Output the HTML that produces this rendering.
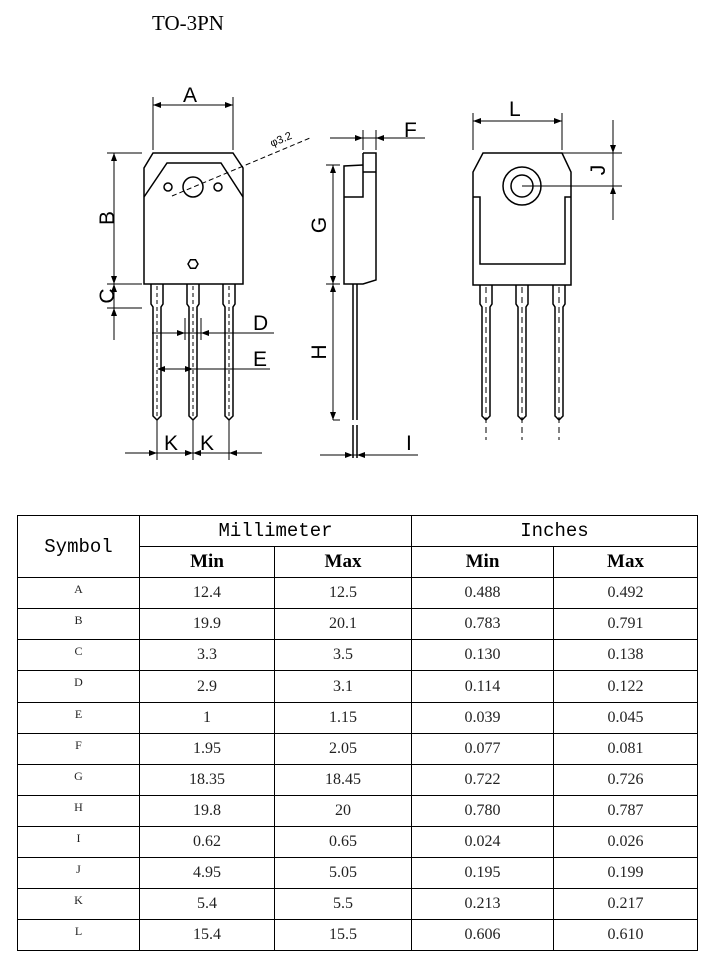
<!DOCTYPE html>
<html><head><meta charset="utf-8"><style>
body{margin:0;width:711px;height:959px;background:#fff;position:relative;overflow:hidden}
svg{position:absolute;left:0;top:0}
table{position:absolute;left:17px;top:515px;border-collapse:collapse;font-family:"Liberation Serif",serif;table-layout:fixed}
td{border:1.5px solid #000;text-align:center;padding:0;height:31.1px;line-height:16px;font-size:16px;color:#222;box-sizing:border-box}
td.s{font-size:12px;vertical-align:top;padding-top:5px;line-height:12px}
.h{font-family:"Liberation Mono",monospace;font-size:19px;color:#000}
.b{font-weight:bold;font-size:19px;color:#000}
</style></head><body>
<svg width="711" height="510" font-family="Liberation Sans,sans-serif">
<text x="152" y="30" font-family="Liberation Serif,serif" font-size="21">TO-3PN</text>
<g fill="none" stroke="#000" stroke-width="1.5">
<path d="M153 153 H233 L243 168 V284 H144 V168 Z"/>
<path d="M144 197 L167 163 H221 L243 197"/>
<circle cx="193" cy="187" r="10"/><circle cx="168" cy="187" r="4"/><circle cx="218" cy="187" r="4"/>
<polygon points="188,264 190.5,259.7 195.5,259.7 198,264 195.5,268.3 190.5,268.3"/>
<g id="lead"><path d="M151 284 V304 L153 307 V416 L157 420 L161 416 V307 L163 304 V284"/><path d="M157 286 V416" stroke-dasharray="4 3" stroke-width="1"/></g>
<use href="#lead" x="36"/><use href="#lead" x="72"/>
<g stroke-width="1">
<path d="M153 150 V97 M233 150 V97 M153 105 H233"/>
<path d="M107 153 H142 M107 284 H142 M107 308 H142 M114 153 V340"/>
<path d="M152 333 H274 M185 318 V340 M201 318 V340 M158 369 H270"/>
<path d="M125 453 H262 M157 420 V460 M193 420 V460 M229 420 V460"/>
<path d="M172 196 L310 138" stroke-dasharray="5 3"/>
</g>
<path d="M363 153 H376 V280 L363 284 H344 V166 L363 165"/>
<path d="M363 153 V197 H344 M363 172 H376"/>
<path d="M353 284 V420 M357 284 V420 M353 425 V458 M357 425 V458"/>
<g stroke-width="1">
<path d="M330 138 H425 M363 130 V150 M376 130 V150"/>
<path d="M326 165 H340 M326 284 H340 M333 165 V420 M333 420 H340"/>
<path d="M320 455 H418"/>
</g>
<path d="M483 153 H562 L571 172 V285 H473 V172 Z"/>
<path d="M473 197 H480 V264 H565 V197 H571"/>
<circle cx="522" cy="186" r="19"/><circle cx="522" cy="186" r="11"/>
<g id="lb"><path d="M480 285 V304 L482 307 V416 L486 420 L490 416 V307 L492 304 V285"/><path d="M486 287 V440" stroke-dasharray="6 4" stroke-width="1"/></g>
<use href="#lb" x="36"/><use href="#lb" x="73"/>
<g stroke-width="1">
<path d="M473 150 V113 M562 150 V113 M473 121 H562"/>
<path d="M562 153 H622 M522 186 H622 M613 120 V220"/>
</g>
</g>
<g fill="#000">
<path d="M153 105 l8 -3 v6 Z M233 105 l-8 -3 v6Z M114 153 l-3 8 h6Z M114 284 l-3 -8 h6Z M114 284 l-3 8 h6Z M114 308 l-3 8 h6Z"/>
<path d="M185 333 l-8 -3 v6Z M201 333 l8 -3 v6Z M157 369 l8 -3 v6Z M193 369 l-8 -3 v6Z"/>
<path d="M157 453 l-8 -3 v6Z M193 453 l-8 -3 v6Z M193 453 l8 -3 v6Z M229 453 l8 -3 v6Z"/>
<path d="M363 138 l-8 -3 v6Z M376 138 l8 -3 v6Z M333 165 l-3 8 h6Z M333 284 l-3 -8 h6Z M333 284 l-3 8 h6Z M333 420 l-3 -8 h6Z M353 455 l-8 -3 v6Z M357 455 l8 -3 v6Z"/>
<path d="M473 121 l8 -3 v6Z M562 121 l-8 -3 v6Z M613 153 l-3 -8 h6Z M613 186 l-3 8 h6Z"/>
</g>
<g font-size="21">
<text x="183" y="102">A</text>
<text x="106" y="226" transform="rotate(-90 106 218)" text-anchor="middle">B</text>
<text x="106" y="304" transform="rotate(-90 106 296)" text-anchor="middle">C</text>
<text x="253" y="330">D</text><text x="253" y="366">E</text>
<text x="164" y="450">K</text><text x="200" y="450">K</text>
<text x="404" y="137">F</text>
<text x="318" y="233" transform="rotate(-90 318 225)" text-anchor="middle">G</text>
<text x="318" y="360" transform="rotate(-90 318 352)" text-anchor="middle">H</text>
<text x="406" y="450">I</text>
<text x="509" y="116">L</text>
<text x="598" y="177" transform="rotate(-90 598 170)" text-anchor="middle">J</text>
</g>
<text x="272" y="147" font-size="11" transform="rotate(-23 272 147)">φ3.2</text>
</svg>
<table>
<colgroup><col style="width:122px"><col style="width:135px"><col style="width:137px"><col style="width:142px"><col style="width:144px"></colgroup>
<tr><td rowspan="2" class="h">Symbol</td><td colspan="2" class="h">Millimeter</td><td colspan="2" class="h">Inches</td></tr>
<tr><td class="b">Min</td><td class="b">Max</td><td class="b">Min</td><td class="b">Max</td></tr>
<tr><td class="s">A</td><td>12.4</td><td>12.5</td><td>0.488</td><td>0.492</td></tr>
<tr><td class="s">B</td><td>19.9</td><td>20.1</td><td>0.783</td><td>0.791</td></tr>
<tr><td class="s">C</td><td>3.3</td><td>3.5</td><td>0.130</td><td>0.138</td></tr>
<tr><td class="s">D</td><td>2.9</td><td>3.1</td><td>0.114</td><td>0.122</td></tr>
<tr><td class="s">E</td><td>1</td><td>1.15</td><td>0.039</td><td>0.045</td></tr>
<tr><td class="s">F</td><td>1.95</td><td>2.05</td><td>0.077</td><td>0.081</td></tr>
<tr><td class="s">G</td><td>18.35</td><td>18.45</td><td>0.722</td><td>0.726</td></tr>
<tr><td class="s">H</td><td>19.8</td><td>20</td><td>0.780</td><td>0.787</td></tr>
<tr><td class="s">I</td><td>0.62</td><td>0.65</td><td>0.024</td><td>0.026</td></tr>
<tr><td class="s">J</td><td>4.95</td><td>5.05</td><td>0.195</td><td>0.199</td></tr>
<tr><td class="s">K</td><td>5.4</td><td>5.5</td><td>0.213</td><td>0.217</td></tr>
<tr><td class="s">L</td><td>15.4</td><td>15.5</td><td>0.606</td><td>0.610</td></tr>
</table>
</body></html>
